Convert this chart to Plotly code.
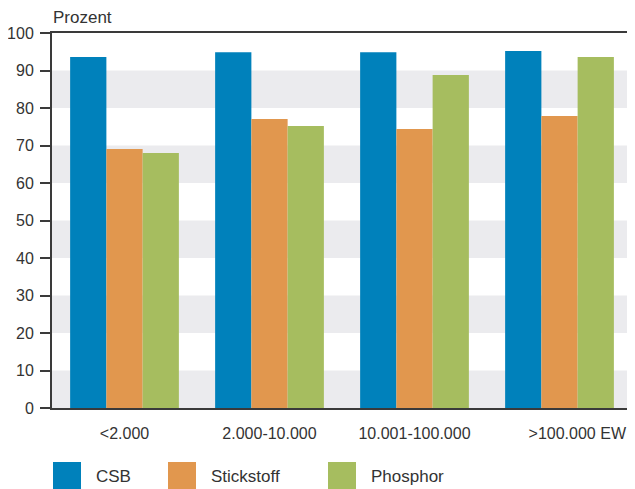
import plotly.graph_objects as go

categories = ["<2.000", "2.000-10.000", "10.001-100.000", ">100.000 EW"]
series_names = ["CSB", "Stickstoff", "Phosphor"]
csb = [93.6, 94.9, 94.9, 95.2]
stickstoff = [69.1, 77.1, 74.4, 77.9]
phosphor = [68.0, 75.2, 88.8, 93.6]
y_ticks = [0, 10, 20, 30, 40, 50, 60, 70, 80, 90, 100]
colors = ["#0081bb", "#e1974e", "#a6bd5f"]

OFF = 8  # browser body margin
W, H = 635 - OFF, 489 - OFF
ML, MR, MT = 52 - OFF, 3, 33 - OFF
PH = 375
MB = H - MT - PH
PW = W - ML - MR

fig = go.Figure()
for name, vals, col in zip(series_names, [csb, stickstoff, phosphor], colors):
    fig.add_trace(go.Bar(x=categories, y=vals, name=name, marker=dict(color=col, line=dict(width=0)),
                         showlegend=False))

shapes = []
for lo in y_ticks[:-1:2]:
    shapes.append(dict(type="rect", xref="paper", yref="y", x0=0, x1=1, y0=lo, y1=lo + 10,
                       fillcolor="#ebebee", line=dict(width=0), layer="below"))

# page pixel -> paper coordinates
def px_x(x):
    return (x - OFF - ML) / PW
def px_y(y):
    return (MT + PH - (y - OFF)) / PH

annotations = []
legend_x = [53, 168, 328]
for name, col, lx in zip(series_names, colors, legend_x):
    shapes.append(dict(type="rect", xref="paper", yref="paper",
                       x0=px_x(lx), x1=px_x(lx + 28), y0=px_y(462), y1=px_y(490),
                       fillcolor=col, line=dict(width=0)))
    annotations.append(dict(xref="paper", yref="paper", x=px_x(lx + 41), y=px_y(476),
                            text=name, showarrow=False, xanchor="left", yanchor="middle",
                            font=dict(size=17, color="#333333")))

annotations.append(dict(xref="paper", yref="paper", x=px_x(51), y=px_y(18), text="Prozent",
                        showarrow=False, xanchor="left", yanchor="middle",
                        font=dict(size=17, color="#333333")))

tick_text = categories[:-1] + ["\u00a0" * 8 + categories[-1]]

fig.update_layout(
    width=W, height=H,
    margin=dict(l=ML, r=MR, t=MT, b=MB, pad=0, autoexpand=False),
    paper_bgcolor="white", plot_bgcolor="white",
    barmode="group", bargap=0.25, bargroupgap=0,
    font=dict(family="Liberation Sans, Arial, sans-serif", color="#333333"),
    shapes=shapes, annotations=annotations,
    xaxis=dict(showline=True, linecolor="#3a3a3a", linewidth=2, mirror=True,
               showgrid=False, ticks="", tickfont=dict(size=16, color="#333333"),
               tickmode="array", tickvals=categories, ticktext=tick_text,
               ticklabelstandoff=10, automargin=False),
    yaxis=dict(range=[0, 100], tickvals=y_ticks, showline=True, linecolor="#3a3a3a",
               linewidth=2, mirror=True, showgrid=False, zeroline=False,
               ticks="outside", ticklen=10, tickwidth=2, tickcolor="#3a3a3a",
               tickfont=dict(size=16, color="#333333"), ticklabelstandoff=3,
               automargin=False),
)

fig.write_html("out.html")
